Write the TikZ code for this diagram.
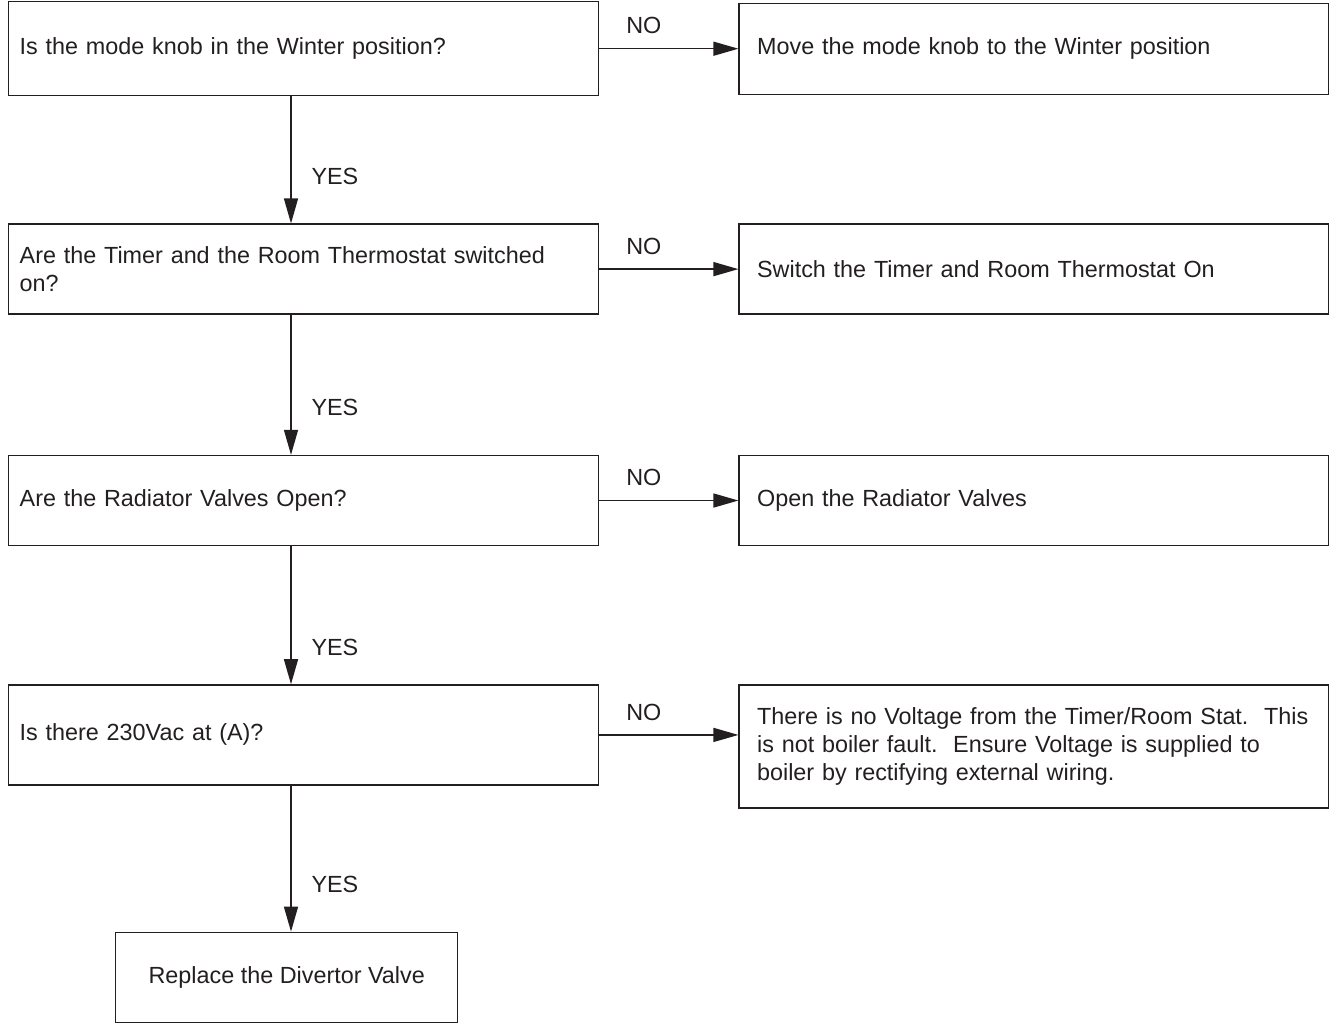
\documentclass[tikz,border=0pt]{standalone}
\usepackage{fontspec}
\setmainfont{Liberation Sans}
\usepackage{xcolor}
\usetikzlibrary{positioning,arrows.meta}
\definecolor{ink}{HTML}{231F20}

\begin{document}
\begin{tikzpicture}[
    every node/.style={font=\fontsize{13.3}{15.9}\selectfont, text=ink},
    qbox/.style={draw=ink, line width=0.8pt, rectangle, minimum width=11.8cm, minimum height=1.8cm, inner xsep=0.22cm, text width=11.36cm, align=left},
    abox/.style={draw=ink, line width=0.8pt, rectangle, minimum width=11.8cm, minimum height=1.8cm, inner xsep=0.36cm, text width=11.08cm, align=left},
    fixbox/.style={draw=ink, line width=0.8pt, rectangle, minimum width=6.84cm, minimum height=1.8cm, align=center},
    arr/.style={draw=ink, line width=0.8pt, -{Triangle[length=0.5cm, width=0.28cm]}},
    yes/.style={right=0.28cm},
    no/.style={above=0.16cm, pos=0.32}
]
    \useasboundingbox (0,0) rectangle (26.58,-20.48);

    % Questions
    \node[qbox, minimum height=1.88cm, anchor=north west] (q1) at (0.16,-0.02) {Is the mode knob in the Winter position?};
    \node[qbox, below=2.54cm of q1] (q2) {Are the Timer and the Room Thermostat switched\\on?};
    \node[qbox, below=2.8cm of q2] (q3) {Are the Radiator Valves Open?};
    \node[qbox, minimum height=2cm, below=2.76cm of q3] (q4) {Is there 230Vac at (A)?};

    % Actions
    \node[abox, minimum height=1.82cm, right=2.78cm of q1] (a1) {Move the mode knob to the Winter position};
    \node[abox, right=2.78cm of q2] (a2) {Switch the Timer and Room Thermostat On};
    \node[abox, right=2.78cm of q3] (a3) {Open the Radiator Valves};
    \node[abox, minimum height=2.46cm, right=2.78cm of q4.north east, anchor=north west] (a4) {There is no Voltage from the Timer/Room Stat.\ \ This\\is not boiler fault.\ \ Ensure Voltage is supplied to\\boiler by rectifying external wiring.};

    % Last step
    \node[fixbox, below=2.92cm of q4, xshift=-0.34cm] (fix) {Replace the Divertor Valve};

    % Arrows
    \coordinate (spine) at (5.82,0);
    \draw[arr] (q1.east) -- (q1.east -| a1.west) node[no] {NO};
    \draw[arr] (q2.east) -- (q2.east -| a2.west) node[no] {NO};
    \draw[arr] (q3.east) -- (q3.east -| a3.west) node[no] {NO};
    \draw[arr] (q4.east) -- (q4.east -| a4.west) node[no] {NO};
    \draw[arr] (q1.south -| spine) -- (q2.north -| spine) node[yes, pos=0.63] {YES};
    \draw[arr] (q2.south -| spine) -- (q3.north -| spine) node[yes, pos=0.66] {YES};
    \draw[arr] (q3.south -| spine) -- (q4.north -| spine) node[yes, pos=0.73] {YES};
    \draw[arr] (q4.south -| spine) -- (fix.north -| spine) node[yes, pos=0.68] {YES};
\end{tikzpicture}
\end{document}
